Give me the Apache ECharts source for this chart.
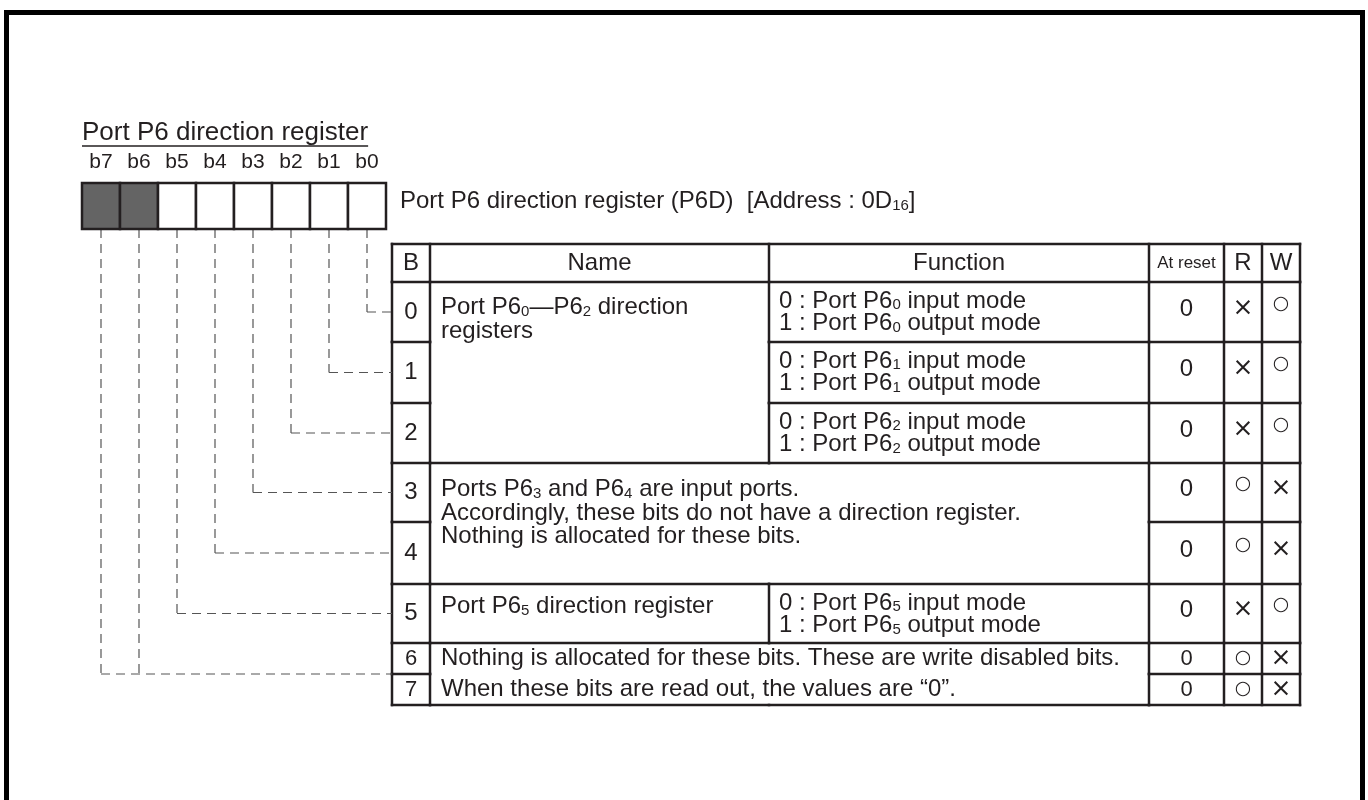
<!DOCTYPE html>
<html><head><meta charset="utf-8">
<script src="https://cdn.jsdelivr.net/npm/echarts@6/dist/echarts.min.js"></script>
<style>html,body{margin:0;padding:0;background:#fff}#c{width:1368px;height:800px}</style>
</head><body><div id="c"></div>
<script>
// ---------------- data ----------------
const registerTitle = 'Port P6 direction register';
const registerDesc = 'Port P6 direction register (P6D)  [Address : 0D{s|16}]';
const bitLabels = ['b7', 'b6', 'b5', 'b4', 'b3', 'b2', 'b1', 'b0'];
const reservedBits = ['b7', 'b6'];
const headers = ['B', 'Name', 'Function', 'At reset', 'R', 'W'];
const rowBits = ['0', '1', '2', '3', '4', '5', '6', '7'];
const atReset = ['0', '0', '0', '0', '0', '0', '0', '0'];
const readMarks = ['×', '×', '×', '○', '○', '×', '○', '○'];
const writeMarks = ['○', '○', '○', '×', '×', '○', '×', '×'];
// [first row, last row, text, spans the Function column too]
const nameCells = [
  [0, 2, 'Port P6{s|0}—P6{s|2} direction\nregisters', false],
  [3, 4, 'Ports P6{s|3} and P6{s|4} are input ports.\nAccordingly, these bits do not have a direction register.\nNothing is allocated for these bits.', true],
  [5, 5, 'Port P6{s|5} direction register', false],
  [6, 7, 'Nothing is allocated for these bits. These are write disabled bits.\nWhen these bits are read out, the values are “0”.', true]
];
const functionTexts = [
  '0 : Port P6{s|0} input mode\n1 : Port P6{s|0} output mode',
  '0 : Port P6{s|1} input mode\n1 : Port P6{s|1} output mode',
  '0 : Port P6{s|2} input mode\n1 : Port P6{s|2} output mode',
  '', '',
  '0 : Port P6{s|5} input mode\n1 : Port P6{s|5} output mode',
  '', ''
];

// ---------------- layout / style ----------------
const FF = '"Liberation Sans", Arial, Helvetica, sans-serif';
const INK = '#231f20';
const LW = 2.5;
const BODY = 24;
const colX = [392, 430, 769, 1149, 1224, 1262, 1300];
const rowY = [244, 282, 342, 403, 463, 522, 584, 643, 674, 705];
const REG = { x0: 82, w: 38, top: 183, bot: 229, labelY: 162, titleY: 133 };
const nameLayout = [{ dy: 13, lh: 24 }, { dy: 15, lh: 23.5 }, { dy: 10, lh: 24 }, { dy: -0.5, lh: 31 }];
const SUB = { s: { fontSize: 15, fontFamily: FF, verticalAlign: 'bottom', lineHeight: 18 } };

function groupOf(r) { return nameCells.findIndex(c => r >= c[0] && r <= c[1]); }
function P(api, x, y) { return api.coord([x, y]); }
function seg(api, x1, y1, x2, y2, extra) {
  const a = P(api, x1, y1), b = P(api, x2, y2);
  return Object.assign({ type: 'line', shape: { x1: a[0], y1: a[1], x2: b[0], y2: b[1] },
    style: { stroke: INK, lineWidth: LW, lineCap: 'square' } }, extra || {});
}
function txt(api, x, y, text, o) {
  const p = P(api, x, y);
  return { type: 'text', style: Object.assign({ x: p[0], y: p[1], text: text, fill: INK,
    fontFamily: FF, fontSize: BODY, align: 'center', verticalAlign: 'middle', rich: SUB }, o || {}) };
}
function measure(text, font) {
  const c = document.createElement('canvas').getContext('2d');
  c.font = font; return c.measureText(text).width;
}

// register bits
function renderBit(params, api) {
  const i = params.dataIndex;
  const label = bitLabels[i];
  const bit = bitLabels.length - 1 - i;
  const x = REG.x0 + i * REG.w, cx = x + REG.w / 2;
  const a = P(api, x, REG.top), b = P(api, x + REG.w, REG.bot);
  const children = [];
  let ty, drawH = true;
  if (bit >= 6) { ty = rowY[8]; drawH = bit === 7; }
  else ty = (rowY[bit + 1] + rowY[bit + 2]) / 2;
  const dash = () => ({ style: { stroke: '#555', lineWidth: 1.2, lineDash: [9, 6] } });
  children.push(seg(api, cx, REG.bot, cx, ty, dash()));
  if (drawH) children.push(seg(api, cx, ty, colX[0], ty, dash()));
  children.push({ type: 'rect', shape: { x: a[0], y: a[1], width: b[0] - a[0], height: b[1] - a[1] },
    style: { fill: reservedBits.includes(label) ? '#646464' : '#fff', stroke: INK, lineWidth: LW } });
  children.push(txt(api, cx, REG.labelY, label, { fontSize: 21 }));
  return { type: 'group', children: children };
}

// frame, title, description, table header
function renderHeader(params, api) {
  const children = [];
  const f1 = P(api, 6.5, 12.5), f2 = P(api, 1362.5, 812);
  children.push({ type: 'rect', shape: { x: f1[0], y: f1[1], width: f2[0] - f1[0], height: f2[1] - f1[1] },
    style: { fill: 'none', stroke: '#000', lineWidth: 5 } });
  children.push(txt(api, REG.x0, REG.titleY, registerTitle, { fontSize: 26, align: 'left' }));
  const tw = measure(registerTitle, '26px ' + FF);
  children.push(seg(api, REG.x0, REG.titleY + 13, REG.x0 + tw, REG.titleY + 13, { style: { stroke: INK, lineWidth: 1.6 } }));
  children.push(txt(api, 400, 201, registerDesc, { fontSize: 24, align: 'left' }));
  const hy = (rowY[0] + rowY[1]) / 2;
  headers.forEach((h, k) => {
    children.push(txt(api, (colX[k] + colX[k + 1]) / 2, hy, h, { fontSize: h === 'At reset' ? 17 : 24 }));
  });
  children.push(seg(api, colX[0], rowY[0], colX[6], rowY[0]));
  children.push(seg(api, colX[0], rowY[1], colX[6], rowY[1]));
  colX.forEach(x => children.push(seg(api, x, rowY[0], x, rowY[1])));
  return { type: 'group', children: children };
}

// table rows
function renderRow(params, api) {
  const r = params.dataIndex;
  const top = rowY[r + 1], bot = rowY[r + 2], mid = (top + bot) / 2;
  const g = groupOf(r), cell = nameCells[g], wide = cell[3];
  const short = bot - top < 40;
  const children = [];
  const vx = wide ? [colX[0], colX[1], colX[3], colX[4], colX[5], colX[6]] : colX;
  vx.forEach(x => children.push(seg(api, x, top, x, bot)));
  const last = r === rowBits.length - 1;
  const sameNext = !last && groupOf(r + 1) === g;
  children.push(seg(api, colX[0], bot, colX[1], bot));
  if (!sameNext) children.push(seg(api, colX[1], bot, colX[2], bot));
  if (!(sameNext && wide)) children.push(seg(api, colX[2], bot, colX[3], bot));
  children.push(seg(api, colX[3], bot, colX[6], bot));
  children.push(txt(api, (colX[0] + colX[1]) / 2, mid, rowBits[r], { fontSize: short ? 22 : 24 }));
  children.push(txt(api, (colX[3] + colX[4]) / 2, short ? mid : mid - 3, atReset[r], { fontSize: short ? 22 : 24 }));
  const markStyle = m => m === '○'
    ? { fontSize: 19, fontFamily: '"DejaVu Sans", sans-serif' }
    : { fontSize: 25, fontFamily: '"DejaVu Sans", sans-serif' };
  const markDy = m => short ? 0 : (m === '○' ? -8 : -4);
  children.push(txt(api, (colX[4] + colX[5]) / 2, mid + markDy(readMarks[r]), readMarks[r], markStyle(readMarks[r])));
  children.push(txt(api, (colX[5] + colX[6]) / 2, mid + markDy(writeMarks[r]), writeMarks[r], markStyle(writeMarks[r])));
  if (r === cell[0]) {
    const lay = nameLayout[g];
    children.push(txt(api, 441, rowY[cell[0] + 1] + lay.dy, cell[2],
      { align: 'left', verticalAlign: 'top', lineHeight: lay.lh }));
  }
  if (functionTexts[r]) {
    children.push(txt(api, 779, top + 8, functionTexts[r],
      { align: 'left', verticalAlign: 'top', lineHeight: 22.5 }));
  }
  return { type: 'group', children: children };
}

const chart = echarts.init(document.getElementById('c'), null, { renderer: 'canvas' });
chart.setOption({
  backgroundColor: '#fff',
  animation: false,
  grid: { left: 0, right: 0, top: 0, bottom: 0 },
  xAxis: { type: 'value', min: 0, max: 1368, show: false },
  yAxis: { type: 'value', min: 0, max: 800, inverse: true, show: false },
  series: [
    { type: 'custom', name: 'header', renderItem: renderHeader, data: [[0, 0]], silent: true },
    { type: 'custom', name: 'rows', renderItem: renderRow, data: rowBits.map((b, i) => [i, +b]), silent: true },
    { type: 'custom', name: 'bits', renderItem: renderBit, data: bitLabels.map((b, i) => [i, 7 - i]), silent: true, z: 3 }
  ]
});
</script></body></html>
